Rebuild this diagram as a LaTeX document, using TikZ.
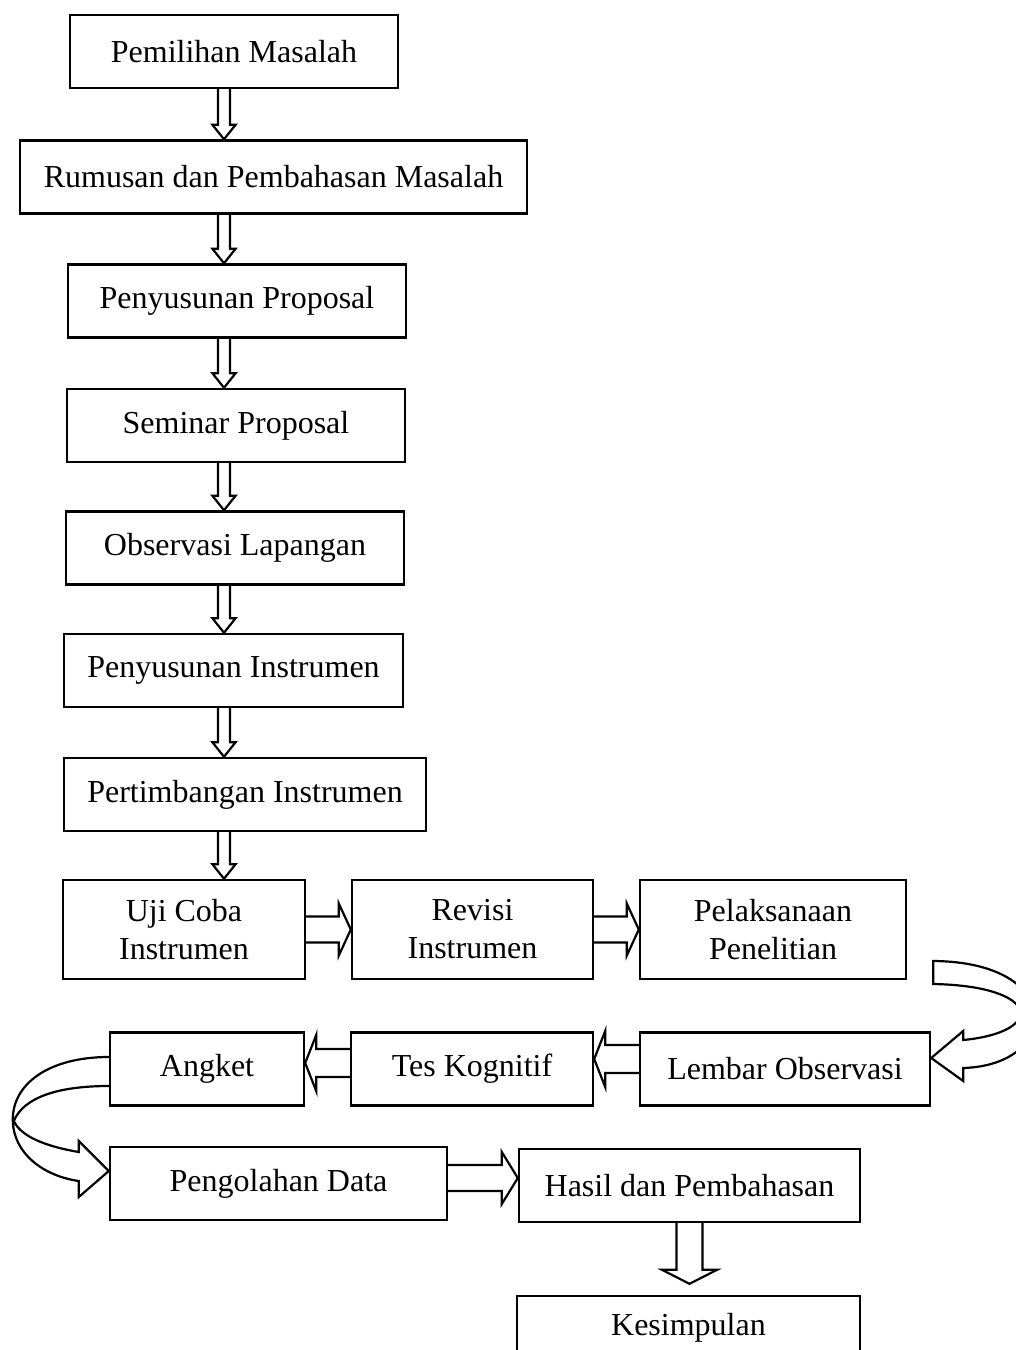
\documentclass[tikz,border=0pt]{standalone}
\usepackage{fontspec}
\setmainfont{Liberation Serif}
\usetikzlibrary{calc,positioning}

\tikzset{
  fat shaft/.store in=\fatshaft,
  fat head/.store in=\fathead,
  fat tip/.store in=\fattip,
  fat shaft=3pt, fat head=5.75pt, fat tip=7.25pt,
  fatline/.style={draw,line width=1.1pt,line join=miter},
  fat down/.style={fatline,to path={let \p1=(\tikztostart),\p2=(\tikztotarget) in
    (\x1-\fatshaft,\y1) -- (\x1-\fatshaft,\y2+\fattip) -- (\x1-\fathead,\y2+\fattip) -- (\x1,\y2)
    -- (\x1+\fathead,\y2+\fattip) -- (\x1+\fatshaft,\y2+\fattip) -- (\x1+\fatshaft,\y1)}},
  fat right/.style={fatline,fat shaft=6.5pt,fat head=13pt,fat tip=6pt,
    to path={let \p1=(\tikztostart),\p2=(\tikztotarget) in
    (\x1,\y1+\fatshaft) -- (\x2-\fattip,\y1+\fatshaft) -- (\x2-\fattip,\y1+\fathead) -- (\x2,\y1)
    -- (\x2-\fattip,\y1-\fathead) -- (\x2-\fattip,\y1-\fatshaft) -- (\x1,\y1-\fatshaft)}},
  fat left/.style={fatline,fat shaft=7pt,fat head=14pt,fat tip=5.5pt,
    to path={let \p1=(\tikztostart),\p2=(\tikztotarget) in
    (\x1,\y1+\fatshaft) -- (\x2+\fattip,\y1+\fatshaft) -- (\x2+\fattip,\y1+\fathead) -- (\x2,\y1)
    -- (\x2+\fattip,\y1-\fathead) -- (\x2+\fattip,\y1-\fatshaft) -- (\x1,\y1-\fatshaft)}}
}

\begin{document}
\begin{tikzpicture}[x=0.5pt,y=-0.5pt,
  node distance=25.5pt and 22.3pt,
  box/.style={draw,line width=1.2pt,align=center,inner sep=2pt,
    minimum height=36.5pt,font=\fontsize{16}{19}\selectfont},
  tall/.style={box,minimum height=49.5pt}]
\useasboundingbox (0,0) rectangle (1016,1350);
\coordinate (col) at (224,0);

\node[box,minimum width=164pt](pemilihan) at (234,51.5){Pemilihan Masalah};
\node[box,minimum width=253.5pt](rumusan) at (273.5,177){Rumusan dan Pembahasan Masalah};
\node[box,minimum width=169pt](proposal) at (237,301){Penyusunan Proposal};
\node[box,minimum width=169pt](seminar) at (236,425.5){Seminar Proposal};
\node[box,minimum width=169pt](observasi) at (235,548){Observasi Lapangan};
\node[box,minimum width=169.5pt](instrumen) at (233.5,670.5){Penyusunan Instrumen};
\node[box,minimum width=181pt](pertimbangan) at (245,794.5){Pertimbangan Instrumen};
\node[tall,minimum width=121pt](ujicoba) at (184,929.5){Uji Coba\\Instrumen};
\node[tall,minimum width=120.5pt,right=of ujicoba](revisi){Revisi\\Instrumen};
\node[tall,minimum width=133pt,right=of revisi](pelaksanaan){Pelaksanaan\\Penelitian};
\node[box,minimum width=145pt](lembar) at (785,1069){Lembar Observasi};
\node[box,minimum width=121pt,left=of lembar](tes){Tes Kognitif};
\node[box,minimum width=97pt,left=of tes](angket){Angket};
\node[box,minimum width=168.5pt](pengolahan) at (278.5,1183.5){Pengolahan Data};
\node[box,minimum width=170.5pt](hasil) at (689.5,1185.5){Hasil dan Pembahasan};
\node[box,minimum width=171.5pt,minimum height=32pt](kesimpulan) at (688.5,1328){Kesimpulan};

\draw[fat down](pemilihan.south -| col) to (rumusan.north -| col);
\draw[fat down](rumusan.south -| col) to (proposal.north -| col);
\draw[fat down](proposal.south -| col) to (seminar.north -| col);
\draw[fat down](seminar.south -| col) to (observasi.north -| col);
\draw[fat down](observasi.south -| col) to (instrumen.north -| col);
\draw[fat down](instrumen.south -| col) to (pertimbangan.north -| col);
\draw[fat down](pertimbangan.south -| col) to (ujicoba.north -| col);
\draw[fat right](ujicoba.east) to (revisi.west);
\draw[fat right](revisi.east) to (pelaksanaan.west);
\draw[fat left]([yshift=5pt]lembar.west) to (tes.east);
\draw[fat left]([yshift=3pt]tes.west) to (angket.east);
\draw[fat right,fat tip=8pt]([yshift=2.75pt]pengolahan.east) to (hasil.west);
\draw[fat down,fat shaft=6.5pt,fat head=13.75pt,fat tip=7pt](hasil.south) to ([yshift=5.5pt]kesimpulan.north);

% ribbon arrows
\begin{scope}[shift={(lembar.east)}]
\draw[fatline](2,-108) .. controls (135,-107) and (130,-4) .. (32,-1) -- (32,12) -- (0,-11)
  -- (32,-38) -- (32,-29) .. controls (115,-37) and (110,-83) .. (2,-85) -- cycle;
\end{scope}
\begin{scope}[shift={(angket.west)}]
\draw[fatline](0,-12) .. controls (-60,-12) and (-97,15) .. (-96,52)
  .. controls (-95,85) and (-65,107) .. (-30,112) -- (-30,128) -- (0,102) -- (-30,72) -- (-30,83)
  .. controls (-65,77) and (-88,67) .. (-95,52) .. controls (-85,28) and (-50,17) .. (0,17);
\end{scope}
\end{tikzpicture}
\end{document}
